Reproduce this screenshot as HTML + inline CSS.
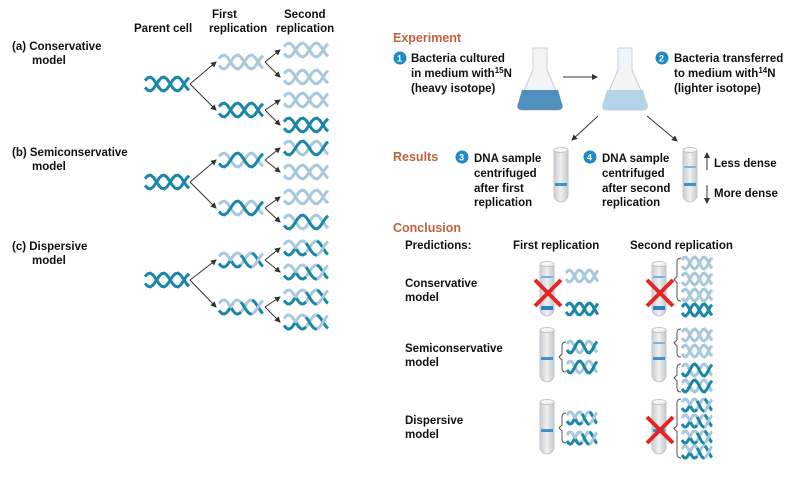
<!DOCTYPE html>
<html><head><meta charset="utf-8">
<style>
html,body{margin:0;padding:0;background:#fff;}
svg{display:block;font-family:"Liberation Sans",Arial,sans-serif;}
.t{font-size:11.5px;font-weight:bold;fill:#111;}
.h{font-size:12.5px;font-weight:bold;fill:#c1623f;}
.n{font-size:9px;font-weight:bold;fill:#fff;}
</style></head>
<body>
<svg id="s" width="795" height="478" viewBox="0 0 795 478">
<defs>
<marker id="ar" markerWidth="6" markerHeight="6" refX="5" refY="3" orient="auto"><path d="M0,0 L6,3 L0,6 z" fill="#333"/></marker>
<linearGradient id="tube" x1="0" x2="1"><stop offset="0" stop-color="#c9cdd1"/><stop offset=".5" stop-color="#eef0f2"/><stop offset="1" stop-color="#c4c8cc"/></linearGradient>
</defs>
<g>
<text class="t" x="134" y="32">Parent cell</text>
<text class="t" x="212" y="18">First</text>
<text class="t" x="209" y="32">replication</text>
<text class="t" x="284" y="18">Second</text>
<text class="t" x="276" y="32">replication</text>
<text class="t" x="12" y="50">(a) Conservative</text>
<text class="t" x="32" y="64">model</text>
<text class="t" x="12" y="156">(b) Semiconservative</text>
<text class="t" x="32" y="170">model</text>
<text class="t" x="12" y="250">(c) Dispersive</text>
<text class="t" x="32" y="264">model</text>
</g>
<g>
<text class="h" x="393" y="42">Experiment</text>
<circle cx="400" cy="58" r="6.5" fill="#1e8ac6"/><text class="n" x="397" y="61.5">1</text>
<text class="t" x="411" y="62">Bacteria cultured</text>
<text class="t" x="411" y="77">in medium with<tspan font-size="8" dy="-4">15</tspan><tspan dy="4">N</tspan></text>
<text class="t" x="411" y="92">(heavy isotope)</text>
<circle cx="662" cy="58" r="6.5" fill="#1e8ac6"/><text class="n" x="659" y="61.5">2</text>
<text class="t" x="674" y="62">Bacteria transferred</text>
<text class="t" x="674" y="77">to medium with<tspan font-size="8" dy="-4">14</tspan><tspan dy="4">N</tspan></text>
<text class="t" x="674" y="92">(lighter isotope)</text>
<line x1="563" y1="77" x2="597" y2="77" stroke="#333" marker-end="url(#ar)"/>
<line x1="598" y1="116" x2="572" y2="140" stroke="#333" marker-end="url(#ar)"/>
<line x1="647" y1="116" x2="677" y2="141" stroke="#333" marker-end="url(#ar)"/>
</g>
<g>
<path d="M533,48 h14 v22 l15,34 q2,6 -5,6 h-34 q-7,0 -5,-6 l15,-34z" fill="#f2f5f7" stroke="#c8ced3"/>
<path d="M522,90 h36 l4,14 q2,6 -5,6 h-34 q-7,0 -5,-6z" fill="#4e8fbd"/>
</g>
<g>
<path d="M618,48 h14 v22 l15,34 q2,6 -5,6 h-34 q-7,0 -5,-6 l15,-34z" fill="#f2f5f7" stroke="#c8ced3"/>
<path d="M607,90 h36 l4,14 q2,6 -5,6 h-34 q-7,0 -5,-6z" fill="#b3d3e8"/>
</g>
<g>
<text class="h" x="393" y="161">Results</text>
<circle cx="462" cy="157" r="6.5" fill="#1e8ac6"/><text class="n" x="459" y="160.5">3</text>
<text class="t" x="474" y="162">DNA sample</text>
<text class="t" x="474" y="177">centrifuged</text>
<text class="t" x="474" y="192">after first</text>
<text class="t" x="474" y="206">replication</text>
<circle cx="590" cy="157" r="6.5" fill="#1e8ac6"/><text class="n" x="587" y="160.5">4</text>
<text class="t" x="602" y="162">DNA sample</text>
<text class="t" x="602" y="177">centrifuged</text>
<text class="t" x="602" y="192">after second</text>
<text class="t" x="602" y="206">replication</text>
<line x1="707" y1="170" x2="707" y2="153" stroke="#333" marker-end="url(#ar)"/>
<line x1="707" y1="185" x2="707" y2="203" stroke="#333" marker-end="url(#ar)"/>
<text class="t" x="714" y="167">Less dense</text>
<text class="t" x="714" y="197">More dense</text>
</g>
<g>
<text class="h" x="393" y="232">Conclusion</text>
<text class="t" x="405" y="249">Predictions:</text>
<text class="t" x="513" y="249">First replication</text>
<text class="t" x="630" y="249">Second replication</text>
<text class="t" x="405" y="287">Conservative</text>
<text class="t" x="405" y="301">model</text>
<text class="t" x="405" y="352">Semiconservative</text>
<text class="t" x="405" y="366">model</text>
<text class="t" x="405" y="424">Dispersive</text>
<text class="t" x="405" y="438">model</text>
</g>
<g id="dyn"></g>
</svg>
<script>
const NS="http://www.w3.org/2000/svg";
const root=document.getElementById('dyn');
const DARK="#1b87a8",LIGHT="#a8c9dc";
function mk(tag,attrs,parent){const e=document.createElementNS(NS,tag);for(const k in attrs)e.setAttribute(k,attrs[k]);(parent||root).appendChild(e);return e;}
function strand(x,y,w,ph,colors,g,amp){
  const segs=colors.length;
  for(let s=0;s<segs;s++){
    let d="";
    const x0=x+w*s/segs,x1=x+w*(s+1)/segs;
    for(let i=0;i<=16;i++){const xx=x0+(x1-x0)*i/16;const yy=y+amp*Math.sin((xx-x)/w*2*Math.PI*1.6+ph);d+=(i?"L":"M")+xx.toFixed(1)+","+yy.toFixed(1);}
    mk('path',{d:d,fill:"none",stroke:colors[s],"stroke-width":3},g);
  }
}
function helix(x,y,w,type,name){
  const g=mk('g',{});
  
  
  let a,b;
  if(type==='D'){a=[DARK];b=[DARK];}
  else if(type==='L'){a=[LIGHT];b=[LIGHT];}
  else if(type==='H'){a=[DARK];b=[LIGHT];}
  else {a=[DARK,LIGHT,DARK,LIGHT];b=[LIGHT,DARK,LIGHT,DARK];}
  const amp=w>35?7:6;
  strand(x,y,w,Math.PI+0.5,b,g,amp);
  strand(x,y,w,0.5,a,g,amp);
}
function arrow(x1,y1,x2,y2){
  const l=mk('line',{x1:x1,y1:y1,x2:x2,y2:y2,stroke:"#333","stroke-width":1,"marker-end":"url(#ar)"});
  
  
}
function tree(py,fy,sy,types1,types2,ptype,label){
  helix(145,py,44,ptype,label+'-parent-dna');
  arrow(190,py,216,fy[0]);arrow(190,py,216,fy[1]);
  for(let i=0;i<2;i++){helix(219,fy[i],44,types1[i],label+'-first-dna');
    arrow(265,fy[i],280,sy[2*i]);arrow(265,fy[i],280,sy[2*i+1]);}
  for(let i=0;i<4;i++)helix(284,sy[i],44,types2[i],label+'-second-dna');
}
tree(84,[62,110],[50,77,100,125],['L','D'],['L','L','L','D'],'D','conservative');
tree(182,[160,208],[148,172,197,222],['H','H'],['H','L','L','H'],'D','semiconservative');
tree(280,[260,307],[248,272,297,322],['M','M'],['M','M','M','M'],'D','dispersive');

function tube(x,y,bands,name){
  const g=mk('g',{});
  
  
  mk('path',{d:`M${x},${y} v45 a7,7 0 0 0 14,0 v-45`,fill:"url(#tube)",stroke:"#c2c7cc"},g);
  mk('ellipse',{cx:x+7,cy:y,rx:7,ry:2.5,fill:"#f4f6f7",stroke:"#c2c7cc"},g);
  bands.forEach(b=>mk('rect',{x:x+1,y:y+b[0],width:12,height:b[1],fill:b[2]},g));
}
tube(554,150,[[33,3,"#3d94c8"]],'tube-first-replication');
tube(683,150,[[16,2,"#7fb6d8"],[33,3,"#3d94c8"]],'tube-second-replication');
tube(540,264,[[12,2,"#7fb6d8"],[42,4,"#2a84c0"]],'conservative-first-tube');
tube(652,264,[[12,2,"#7fb6d8"],[42,4,"#2a84c0"]],'conservative-second-tube');
tube(540,330,[[27,3,"#3d94c8"]],'semi-first-tube');
tube(652,330,[[12,2,"#7fb6d8"],[27,3,"#3d94c8"]],'semi-second-tube');
tube(540,402,[[27,3,"#3d94c8"]],'dispersive-first-tube');
tube(652,402,[[27,3,"#3d94c8"]],'dispersive-second-tube');
helix(566,276,32,'L','cons-first-light');helix(566,309,32,'D','cons-first-heavy');
[263,279,295].forEach(y=>helix(682,y,30,'L','cons-second-light'));helix(682,310,30,'D','cons-second-heavy');
helix(567,347,30,'H','semi-first');helix(567,367,30,'H','semi-first');
helix(682,335,30,'L','semi-second');helix(682,351,30,'L','semi-second');helix(682,370,30,'H','semi-second');helix(682,386,30,'H','semi-second');
helix(567,418,30,'M','disp-first');helix(567,438,30,'M','disp-first');
[405,421,437,452].forEach(y=>helix(682,y,30,'M','disp-second'));
function brace(x,y1,y2,name){
  const m=(y1+y2)/2;
  const p=mk('path',{d:`M${x+4},${y1} q-4,0 -4,4 V${m-3} l-3,3 l3,3 V${y2-4} q0,4 4,4`,fill:"none",stroke:"#555","stroke-width":1});
  
  
}
brace(562,342,372,'brace');brace(562,413,443,'brace');
brace(677,258,301,'brace');brace(677,329,357,'brace');brace(677,364,392,'brace');brace(677,399,458,'brace');
function cross(cx,cy,name){
  const g=mk('g',{});
  
  
  mk('line',{x1:cx-13,y1:cy-13,x2:cx+13,y2:cy+13,stroke:"#e42525","stroke-width":4},g);
  mk('line',{x1:cx+13,y1:cy-13,x2:cx-13,y2:cy+13,stroke:"#e42525","stroke-width":4},g);
}
cross(548,293,'rejected-x');cross(660,293,'rejected-x');cross(660,430,'rejected-x');
</script>
</body></html>
